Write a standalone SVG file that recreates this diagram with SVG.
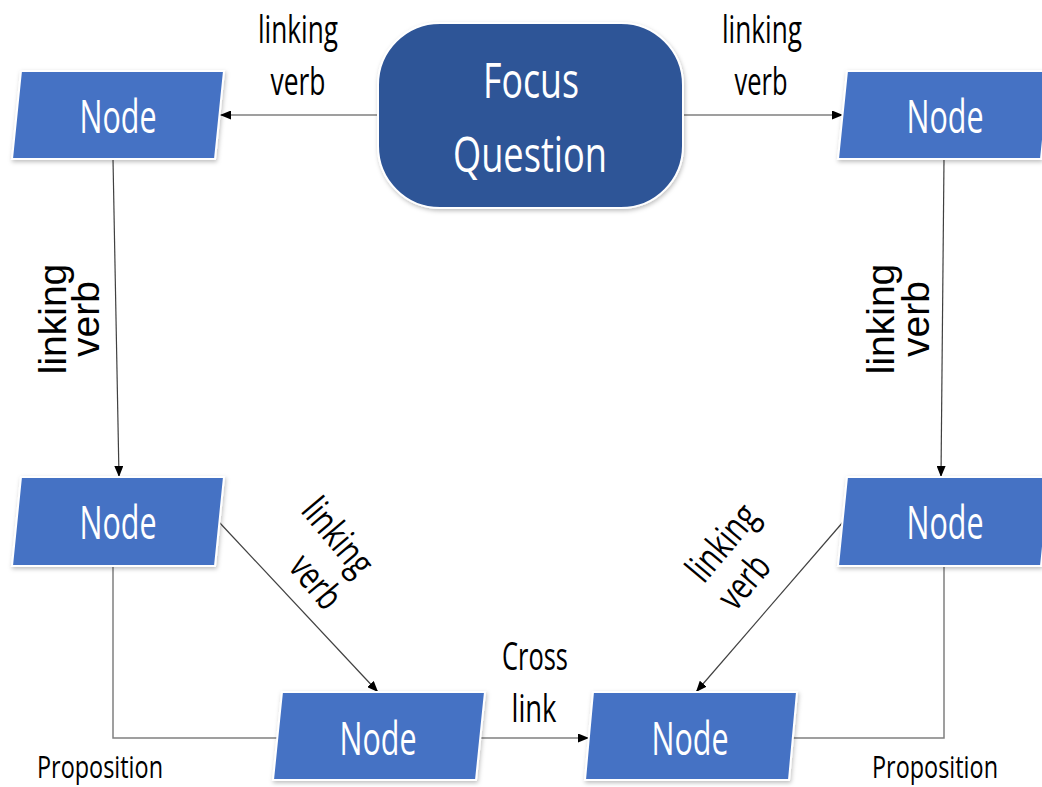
<svg xmlns="http://www.w3.org/2000/svg" width="1042" height="787" viewBox="0 0 1042 787">
<defs>
<style>
.node{fill:#4472C4;stroke:#FFFFFF;stroke-width:2;filter:url(#sh);}
.focus{fill:#2F5597;stroke:#FFFFFF;stroke-width:2;filter:url(#sh);}
.nt{font-family:"Open Sans","Liberation Sans",sans-serif;font-size:46px;fill:#FFFFFF;text-anchor:middle;}
.ft{font-family:"Open Sans","Liberation Sans",sans-serif;font-size:50px;fill:#FFFFFF;text-anchor:middle;}
.lb{font-family:"Open Sans","Liberation Sans",sans-serif;font-size:38px;fill:#000000;text-anchor:middle;}
.pr{font-family:"Open Sans","Liberation Sans",sans-serif;font-size:31px;fill:#000000;}
.vl{font-family:"Liberation Sans",Arial,sans-serif;font-size:39px;fill:#000000;text-anchor:middle;}
.arrow{fill:none;stroke:#404040;stroke-width:1.2;marker-end:url(#arr);}
.plain{fill:none;stroke:#808080;stroke-width:1.5;}
</style>
<marker id="arr" viewBox="0 0 11 9" refX="11" refY="4.5" markerWidth="11" markerHeight="9" markerUnits="userSpaceOnUse" orient="auto">
<path d="M0,0 L11,4.5 L0,9 z" fill="#000000"/>
</marker>
<filter id="sh" x="-10%" y="-10%" width="120%" height="130%">
<feDropShadow dx="1" dy="2" stdDeviation="2" flood-color="#000000" flood-opacity="0.25"/>
</filter>
</defs>
<rect width="1042" height="787" fill="#FFFFFF"/>

<g id="connectors">
<path class="arrow" d="M378,115 L220,115"/>
<path class="arrow" d="M683,115 L843,115"/>
<path class="arrow" d="M113,159 L119,477"/>
<path class="arrow" d="M944,159 L941,477"/>
<path class="arrow" d="M219,522 L378,692"/>
<path class="arrow" d="M843,522 L696,692"/>
<path class="plain" d="M113,566 L113,738 L278,738"/>
<path class="arrow" d="M481,738 L589,738"/>
<path class="plain" d="M793,738 L944,738 L944,566"/>
</g>

<g id="focus">
<rect class="focus" x="378" y="23" width="305" height="185" rx="62" ry="62"/>
<text class="ft" x="531" y="98" textLength="96" lengthAdjust="spacingAndGlyphs">Focus</text>
<text class="ft" x="530" y="172" textLength="154" lengthAdjust="spacingAndGlyphs">Question</text>
</g>

<g id="node-tl">
<polygon class="node" points="21,71 224,71 215,159 12,159"/>
<text class="nt" x="118" y="133" textLength="77" lengthAdjust="spacingAndGlyphs">Node</text>
</g>
<g id="node-tr">
<polygon class="node" points="847,71 1050,71 1041,159 838,159"/>
<text class="nt" x="945" y="133" textLength="77" lengthAdjust="spacingAndGlyphs">Node</text>
</g>
<g id="node-ml">
<polygon class="node" points="21,477 224,477 215,566 12,566"/>
<text class="nt" x="118" y="539" textLength="77" lengthAdjust="spacingAndGlyphs">Node</text>
</g>
<g id="node-mr">
<polygon class="node" points="847,477 1050,477 1041,566 838,566"/>
<text class="nt" x="945" y="539" textLength="77" lengthAdjust="spacingAndGlyphs">Node</text>
</g>
<g id="node-bl">
<polygon class="node" points="282,692 485,692 476,780 273,780"/>
<text class="nt" x="378" y="755" textLength="77" lengthAdjust="spacingAndGlyphs">Node</text>
</g>
<g id="node-br">
<polygon class="node" points="593,692 797,692 789,780 585,780"/>
<text class="nt" x="690" y="755" textLength="77" lengthAdjust="spacingAndGlyphs">Node</text>
</g>

<g id="labels">
<text class="lb" x="298" y="43" textLength="80" lengthAdjust="spacingAndGlyphs">linking</text>
<text class="lb" x="298" y="95" textLength="55" lengthAdjust="spacingAndGlyphs">verb</text>
<text class="lb" x="762" y="43" textLength="80" lengthAdjust="spacingAndGlyphs">linking</text>
<text class="lb" x="761" y="95" textLength="53" lengthAdjust="spacingAndGlyphs">verb</text>
<text class="vl" transform="translate(66,319) rotate(-90)">linking</text>
<text class="vl" transform="translate(99,319) rotate(-90)">verb</text>
<text class="vl" transform="translate(894,319) rotate(-90)">linking</text>
<text class="vl" transform="translate(929,319) rotate(-90)">verb</text>
<text class="lb" transform="translate(328,545) rotate(50)" textLength="88" lengthAdjust="spacingAndGlyphs">linking</text>
<text class="lb" transform="translate(306,590) rotate(50)" textLength="58" lengthAdjust="spacingAndGlyphs">verb</text>
<text class="lb" transform="translate(732,551) rotate(-50)" textLength="88" lengthAdjust="spacingAndGlyphs">linking</text>
<text class="lb" transform="translate(754,590) rotate(-50)" textLength="58" lengthAdjust="spacingAndGlyphs">verb</text>
<text class="lb" x="535" y="670" textLength="66" lengthAdjust="spacingAndGlyphs">Cross</text>
<text class="lb" x="534" y="722" textLength="45" lengthAdjust="spacingAndGlyphs">link</text>
<text class="pr" x="37" y="778" textLength="126" lengthAdjust="spacingAndGlyphs">Proposition</text>
<text class="pr" x="872" y="778" textLength="126" lengthAdjust="spacingAndGlyphs">Proposition</text>
</g>
</svg>
